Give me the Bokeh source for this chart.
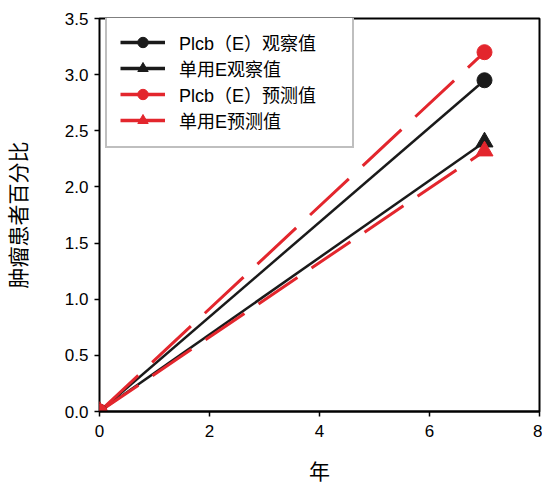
from bokeh.plotting import figure
from bokeh.models import Legend, LegendItem, Range1d, FixedTicker, ColumnDataSource
from bokeh.embed import file_html
from bokeh.resources import INLINE

# ---- data ----
years = [0, 7]
plcb_obs = [0, 2.95]
single_obs = [0, 2.40]
plcb_pred = [0, 3.20]
single_pred = [0, 2.32]
series_labels = ["Plcb（E）观察值", "单用E观察值", "Plcb（E）预测值", "单用E预测值"]
x_ticks = [0, 2, 4, 6, 8]
y_ticks = [0.0, 0.5, 1.0, 1.5, 2.0, 2.5, 3.0, 3.5]
y_tick_labels = ["0.0", "0.5", "1.0", "1.5", "2.0", "2.5", "3.0", "3.5"]
x_label = "年"
y_label = "肿瘤患者百分比"

BLACK = "#1a1a1a"
RED = "#e3262d"
FONT = "Liberation Sans, Noto Sans CJK SC"

p = figure(width=542, height=485, output_backend="svg", toolbar_location=None,
           x_range=Range1d(0, 8), y_range=Range1d(0, 3.5),
           min_border_left=99, min_border_right=3, min_border_top=18, min_border_bottom=72)

p.xgrid.visible = False
p.ygrid.visible = False
p.outline_line_color = "black"
p.outline_line_width = 2
p.background_fill_color = "white"
p.border_fill_color = "white"

for ax in (p.xaxis[0], p.yaxis[0]):
    ax.axis_line_width = 2
    ax.axis_line_color = "black"
    ax.major_tick_in = 0
    ax.major_tick_out = 5
    ax.major_tick_line_width = 1.5
    ax.major_tick_line_color = "black"
    ax.minor_tick_line_color = None
    ax.major_label_text_font = FONT
    ax.major_label_text_font_size = "17px"
    ax.major_label_text_color = "black"
    ax.axis_label_text_font = FONT
    ax.axis_label_text_font_style = "normal"
    ax.axis_label_text_color = "black"

p.xaxis.ticker = FixedTicker(ticks=x_ticks)
p.yaxis.ticker = FixedTicker(ticks=y_ticks)
p.yaxis.major_label_overrides = {t: l for t, l in zip(y_ticks, y_tick_labels)}
p.xaxis.major_label_standoff = 8
p.yaxis.major_label_standoff = 6
p.xaxis.axis_label = x_label
p.xaxis.axis_label_text_font_size = "21px"
p.xaxis.axis_label_standoff = 20

# y label: centred a little above the frame middle, as in the reference
p.yaxis.axis_label = y_label
p.yaxis.axis_label_text_font_size = "21px"
p.yaxis.axis_label_standoff = 32
p.yaxis.bounds = (0, 3.66)
p.yaxis.axis_line_color = None   # the frame outline draws the left edge

# ---- data lines ----
p.line(years, plcb_obs, line_color=BLACK, line_width=2.5)
p.line(years, single_obs, line_color=BLACK, line_width=2.5)
p.line(years, plcb_pred, line_color=RED, line_width=3, line_dash="53 19")
p.line(years, single_pred, line_color=RED, line_width=3, line_dash="47 17")

p.scatter(years, single_obs, marker="triangle", size=17, color=BLACK)
p.scatter(years, plcb_obs, marker="circle", size=15, color=BLACK)
p.scatter(years, single_pred, marker="triangle", size=17, color=RED)
p.scatter(years, plcb_pred, marker="circle", size=15, color=RED)

# ---- legend (solid line + marker swatches) ----
nan = float("nan")
items = []
for lab, col, mk in zip(series_labels, [BLACK, BLACK, RED, RED],
                        ["circle", "triangle", "circle", "triangle"]):
    src = ColumnDataSource(data=dict(x=[nan], y=[nan]))
    l = p.line("x", "y", source=src, line_color=col, line_width=3.5)
    s = p.scatter("x", "y", source=src, marker=mk, color=col)
    items.append(LegendItem(label=lab, renderers=[l, s]))

legend = Legend(items=items, location=(6, 263), orientation="vertical",
                glyph_width=45, glyph_height=26, label_height=26, spacing=0,
                padding=13, margin=0, label_standoff=14, label_width=160,
                label_text_font=FONT, label_text_font_size="18px",
                label_text_color="black",
                border_line_color="#808080", border_line_width=2,
                background_fill_color="white", background_fill_alpha=1)
p.add_layout(legend, "center")

open("out.html", "w").write(file_html(p, INLINE))
